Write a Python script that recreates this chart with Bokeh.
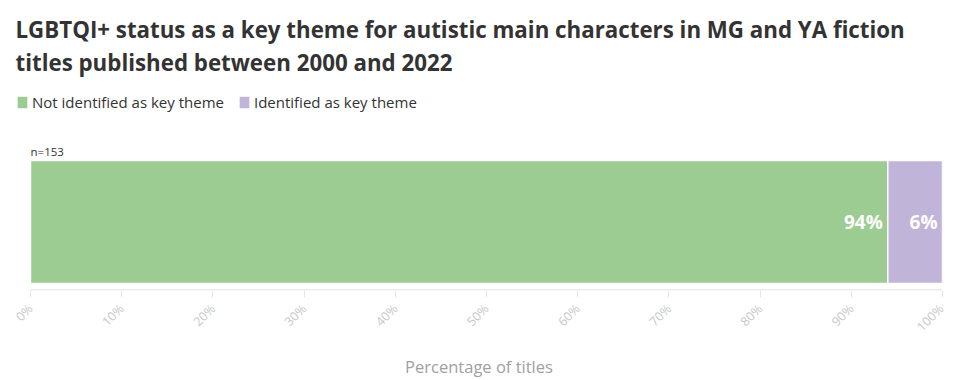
from bokeh.plotting import figure
from bokeh.models import Range1d, Title, Legend, LegendItem, ColumnDataSource, FixedTicker, CustomJSTickFormatter
from bokeh.core.properties import value
from bokeh.embed import file_html
from bokeh.resources import INLINE
import math

categories = ["Not identified as key theme", "Identified as key theme"]
percentages = [94, 6]
colors = ["#9ccc92", "#c0b4d8"]
n_label = "n=153"
tick_values = [0, 10, 20, 30, 40, 50, 60, 70, 80, 90, 100]

lefts = [sum(percentages[:i]) for i in range(len(percentages))]
rights = [lefts[i] + percentages[i] for i in range(len(percentages))]
src = ColumnDataSource(dict(left=lefts, right=rights, lab=[f"{v}%" for v in percentages]))

FONT = "Open Sans"
p = figure(frame_width=927, frame_height=213, output_backend="svg", toolbar_location=None,
           x_range=Range1d(-15 * 100 / 912, 100), y_range=Range1d(0, 213),
           min_border_left=15, min_border_right=5, min_border_bottom=0, min_border_top=77)
p.outline_line_color = None
p.grid.visible = False
p.yaxis.visible = False

r_green = p.hbar(y=68.5, height=123, left=[lefts[0]], right=[rights[0]], fill_color=colors[0],
                 line_color="white", line_width=1.5)
r_purple = p.hbar(y=68.5, height=123, left=[lefts[1]], right=[rights[1]], fill_color=colors[1],
                  line_color="white", line_width=1.5)

p.text(x="right", y=68.5, text="lab", source=src, text_align="right", text_baseline="middle",
       x_offset=-5, text_color="white", text_font=value(FONT), text_font_style="bold",
       text_font_size="19px")
p.text(x=[0], y=[132], text=[n_label], text_align="left", text_baseline="bottom",
       text_color="#333333", text_font=value(FONT), text_font_size="11.5px")

ax = p.xaxis[0]
ax.ticker = FixedTicker(ticks=tick_values)
ax.formatter = CustomJSTickFormatter(code="return tick + '%';")
ax.major_label_orientation = math.pi / 4
ax.major_label_standoff = 9
ax.major_label_text_color = "#c8c8c8"
ax.major_label_text_font = FONT
ax.major_label_text_font_size = "12.5px"
ax.axis_line_color = None
ax.major_tick_line_color = "#e6e6e6"
ax.major_tick_out = 7
ax.major_tick_in = 0
ax.minor_tick_line_color = None
ax.axis_label = "Percentage of titles"
ax.axis_label_text_color = "#a0a0a0"
ax.axis_label_text_font = FONT
ax.axis_label_text_font_size = "16.5px"
ax.axis_label_text_font_style = "normal"
ax.axis_label_standoff = 11

# axis baseline only over the 0-100 domain
p.segment(x0=[tick_values[0]], x1=[tick_values[-1]], y0=[0.5], y1=[0.5], line_color="#e6e6e6", line_width=1.5)

legend = Legend(items=[LegendItem(label=categories[0], renderers=[r_green]),
                       LegendItem(label=categories[1], renderers=[r_purple])],
                orientation="horizontal", location=(0, 178),
                label_text_font=FONT, label_text_font_size="15px", label_text_color="#333333",
                glyph_width=14, glyph_height=16, label_height=16, label_standoff=3, spacing=13,
                padding=0, margin=0, border_line_color=None, background_fill_alpha=0)
p.add_layout(legend)

t2 = Title(text="titles published between 2000 and 2022", align="left", offset=0,
           text_font=FONT, text_font_size="22.3px", text_font_style="bold", text_color="#333333",
           standoff=0)
t1 = Title(text="LGBTQI+ status as a key theme for autistic main characters in MG and YA fiction",
           align="left", offset=0,
           text_font=FONT, text_font_size="22.3px", text_font_style="bold", text_color="#333333",
           standoff=0)
p.add_layout(t2, "above")
p.add_layout(t1, "above")

open("out.html", "w").write(file_html(p, INLINE))
